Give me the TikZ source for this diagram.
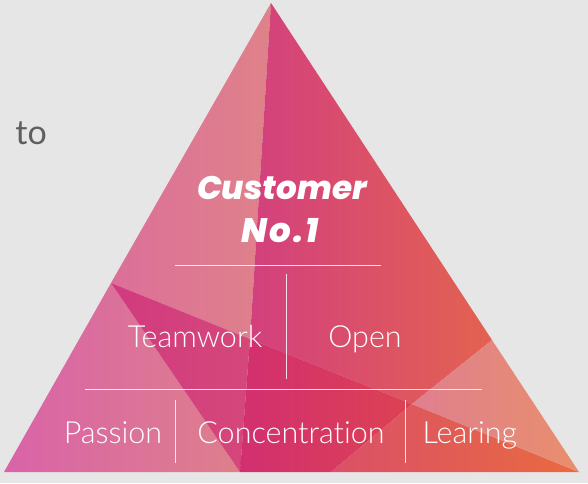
\documentclass[tikz,border=0pt]{standalone}
\usepackage{fontspec}
\setmainfont{Open Sans}
\newfontfamily\lightf[Ligatures=NoCommon]{Lato Light}
\newfontfamily\regf{Lato}
\newfontfamily\heavyf{Poppins ExtraBold Italic}
\newfontfamily\heavyw[LetterSpace=6]{Poppins ExtraBold Italic}
\begin{document}
\begin{tikzpicture}[x=1pt,y=-1pt,
  lbl/.style={font=\lightf\fontsize{30.5}{30.5}\selectfont,text=white,inner sep=0pt,anchor=base},
  head/.style={font=\heavyf\fontsize{32.6}{32.6}\selectfont,text=white,inner sep=0pt,anchor=base},
  headw/.style={font=\heavyw\fontsize{34}{34}\selectfont,text=white,inner sep=0pt,anchor=base},
  sep/.style={draw=white,opacity=.85,line width=1pt},
  region/.style={draw=none,shading=axis,shading angle=90}]
\useasboundingbox (0,0) rectangle (588,483);
\fill[fill={rgb,255:red,230;green,230;blue,230}] (0,0) rectangle (588,483);
\coordinate (A) at (271,3);
\coordinate (L) at (4,472);
\coordinate (R) at (579,472);
\coordinate (P) at (111,283);
\coordinate (Q) at (492,340);
\coordinate (M) at (240,472);
\coordinate (X) at (250,339);
\coordinate (Y) at (412,404);
\coordinate (Z) at (331,472);
\definecolor{a1}{HTML}{DC6F9A}\definecolor{a2}{HTML}{DF828A}
\definecolor{b1}{HTML}{D963A8}\definecolor{b2}{HTML}{DE7F8C}
\definecolor{c1}{HTML}{D13A7F}\definecolor{c2}{HTML}{D5487A}
\definecolor{d1}{HTML}{D3407E}\definecolor{d2}{HTML}{E36250}
\definecolor{e1}{HTML}{D22F70}\definecolor{e2}{HTML}{DC4252}
\definecolor{f1}{HTML}{DA5068}\definecolor{f2}{HTML}{E96A40}
\definecolor{g1}{HTML}{DF7F8F}\definecolor{g2}{HTML}{E98F6C}
\path[region,left color=a1,right color=a2] (A)--(P)--(X)--cycle;
\path[region,left color=b1,right color=b2] (P)--(L)--(M)--cycle;
\path[region,left color=c1,right color=c2] (P)--(M)--(X)--cycle;
\path[region,left color=d1,right color=d2] (A)--(X)--(Y)--(Q)--cycle;
\path[region,left color=e1,right color=e2] (X)--(M)--(Z)--(Y)--cycle;
\path[region,left color=f1,right color=f2] (Z)--(Y)--(R)--cycle;
\path[region,left color=g1,right color=g2] (Y)--(Q)--(R)--cycle;
\node[head] (c1) at (282,199) {Customer};
\node[headw] (c2) at (280,242) {No.1};
\node[lbl] (team) at (195,347) {Teamwork};
\node[lbl] (open) at (365,347) {Open};
\node[lbl] (pass) at (113,443) {Passion};
\node[lbl] (conc) at (291,443) {Concentration};
\node[lbl] (lear) at (470,443) {Learing};
\coordinate (h1a) at (175,265.5);\coordinate (h1b) at (381,265.5);
\coordinate (h2a) at (85,389);\coordinate (h2b) at (482,389);
\coordinate (v1a) at (286.5,274);\coordinate (v1b) at (286.5,379);
\coordinate (v2a) at (175.5,400);\coordinate (v2b) at (175.5,463);
\coordinate (v3a) at (405,400);\coordinate (v3b) at (405,463);
\draw[sep] (h1a)--(h1b);
\draw[sep] (h2a)--(h2b);
\draw[sep] (v1a)--(v1b);
\draw[sep] (v2a)--(v2b);
\draw[sep] (v3a)--(v3b);
\node[font=\regf\fontsize{34}{34}\selectfont,text={rgb,255:red,95;green,95;blue,95},inner sep=0pt,anchor=base east] (to) at (47,144) {to};
\end{tikzpicture}
\end{document}
